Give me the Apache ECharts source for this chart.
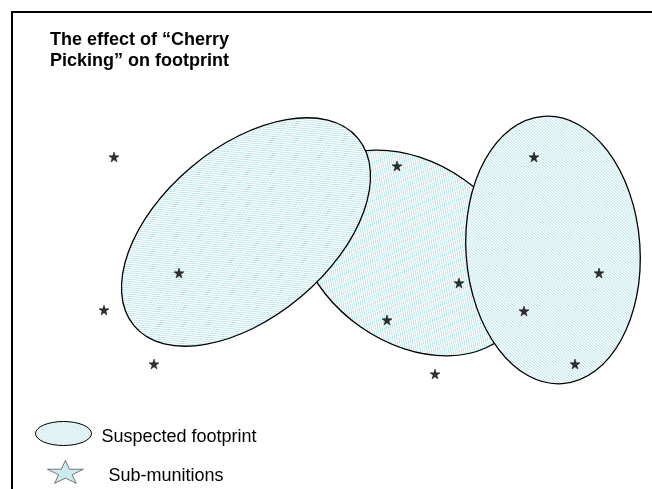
<!DOCTYPE html>
<html>
<head>
<meta charset="utf-8">
<script src="https://cdn.jsdelivr.net/npm/echarts@6/dist/echarts.min.js"></script>
<style>
  html, body { margin: 0; padding: 0; background: #fff; }
  #chart { width: 652px; height: 489px; }
</style>
</head>
<body>
<div id="chart"></div>
<script>
// footprints: middle one first so the other two sit on top of it
var footprintCx = [412, 246, 553];
var footprintCy = [253, 232, 250];
var footprintRx = [125, 146, 87];
var footprintRy = [90, 85, 134];
var footprintAngle = [-35, 40, 4];

// sub-munitions
var starX = [114, 397, 534, 179, 459, 599, 104, 387, 524, 154, 435, 575];
var starY = [157, 166, 157, 273, 283, 273, 310, 320, 311, 364, 374, 364];

var titleText = 'The effect of \u201cCherry\nPicking\u201d on footprint';
var legendNames = ['Suspected footprint', 'Sub-munitions'];

var starPath = 'path://M50,0 L61,35 L98,35 L68,57 L79,91 L50,70 L21,91 L32,57 L2,35 L39,35 Z';
var ovalPath = 'path://M0,50 A100,50 0 1,0 200,50 A100,50 0 1,0 0,50 Z';

// diagonal hatch fill
var hatch = document.createElement('canvas');
hatch.width = 3; hatch.height = 3;
var hctx = hatch.getContext('2d');
hctx.fillStyle = '#ffffff';
hctx.fillRect(0, 0, 3, 3);
hctx.fillStyle = '#a6dcdf';
for (var k = 0; k < 3; k++) hctx.fillRect(k, k, 1, 1);
var hatchFill = { image: hatch, repeat: 'repeat' };

var footprints = [];
for (var i = 0; i < footprintCx.length; i++) {
  footprints.push([footprintCx[i], footprintCy[i], footprintRx[i], footprintRy[i], footprintAngle[i]]);
}
var stars = [];
for (var j = 0; j < starX.length; j++) stars.push([starX[j], starY[j]]);

var frameLine = { show: true, onZero: false, lineStyle: { color: '#000', width: 2 } };
var legendFont = { fontFamily: 'Liberation Sans', fontSize: 18, color: '#000', padding: [8, 0, 0, 0] };

var myChart = echarts.init(document.getElementById('chart'));
var option = {
  animation: false,
  title: {
    text: titleText,
    left: 50,
    top: 30,
    padding: 0,
    textStyle: {
      fontFamily: 'Liberation Sans',
      fontSize: 18,
      fontWeight: 'bold',
      lineHeight: 21,
      color: '#000'
    }
  },
  grid: { left: 12, top: 12, right: 0, bottom: 0 },
  xAxis: {
    type: 'value', min: 12, max: 652, position: 'top',
    axisLine: frameLine, axisTick: { show: false }, axisLabel: { show: false }, splitLine: { show: false }
  },
  yAxis: {
    type: 'value', min: 12, max: 489, inverse: true, position: 'left',
    axisLine: frameLine, axisTick: { show: false }, axisLabel: { show: false }, splitLine: { show: false }
  },
  legend: [{
    data: [{ name: legendNames[0], icon: ovalPath,
      itemStyle: { color: hatchFill, borderColor: '#000', borderWidth: 1 } }],
    left: 35, top: 421, padding: 0,
    itemWidth: 56, itemHeight: 24,
    symbolKeepAspect: false,
    selectedMode: false,
    formatter: '{g|}{t|{name}}',
    textStyle: { fontFamily: 'Liberation Sans', fontSize: 18, color: '#000',
      rich: { g: { width: 5 }, t: legendFont } }
  }, {
    data: [{ name: legendNames[1], icon: starPath,
      itemStyle: { color: '#bfe6e8', borderColor: '#333', borderWidth: 0.8 } }],
    left: 47, top: 460, padding: 0,
    itemWidth: 36, itemHeight: 23,
    symbolKeepAspect: false,
    selectedMode: false,
    formatter: '{g|}{t|{name}}',
    textStyle: { fontFamily: 'Liberation Sans', fontSize: 18, color: '#000',
      rich: { g: { width: 20 }, t: legendFont } }
  }],
  series: [{
    name: legendNames[0],
    type: 'custom',
    data: footprints,
    itemStyle: { color: hatchFill, borderColor: '#000', borderWidth: 1 },
    renderItem: function (params, api) {
      var c = api.coord([api.value(0), api.value(1)]);
      var s = api.size([api.value(2), api.value(3)]);
      return {
        type: 'ellipse',
        x: c[0], y: c[1],
        rotation: api.value(4) * Math.PI / 180,
        shape: { cx: 0, cy: 0, rx: s[0], ry: s[1] },
        style: { fill: hatchFill, stroke: '#000', lineWidth: 1.3 }
      };
    }
  }, {
    name: legendNames[1],
    type: 'scatter',
    data: stars,
    symbol: starPath,
    symbolSize: 10,
    itemStyle: { color: '#000', borderColor: '#000', borderWidth: 0.6 },
    z: 5
  }]
};
myChart.setOption(option);
</script>
</body>
</html>
